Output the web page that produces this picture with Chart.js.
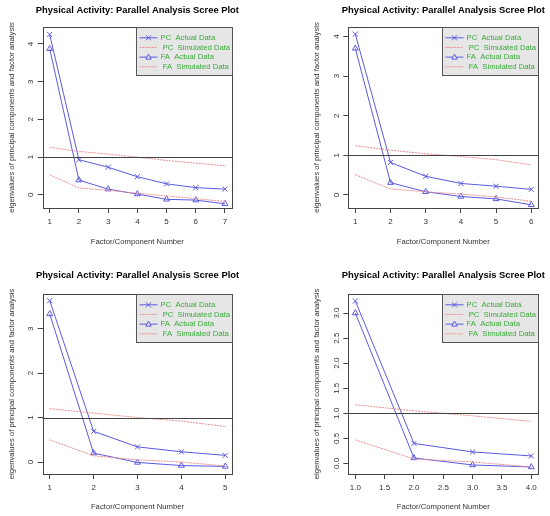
<!DOCTYPE html>
<html><head><meta charset="utf-8">
<script src="https://cdn.jsdelivr.net/npm/chart.js@4"></script>
<style>
html,body{margin:0;padding:0;background:#fff;}
#wrap{position:relative;width:550px;height:516px;overflow:hidden;}
.p{position:absolute;width:275px;height:258px;}
canvas{display:block;}
</style></head><body>
<div id="wrap">
<div class="p" style="left:0;top:0"><canvas id="c1" width="275" height="258"></canvas></div>
<div class="p" style="left:275px;top:0"><canvas id="c2" width="275" height="258"></canvas></div>
<div class="p" style="left:0;top:258px"><canvas id="c3" width="275" height="258"></canvas></div>
<div class="p" style="left:275px;top:258px"><canvas id="c4" width="275" height="258"></canvas></div>
</div>
<script>
// ---- text ----
const titleText = 'Physical Activity: Parallel Analysis Scree Plot';
const xAxisTitle = 'Factor/Component Number';
const yAxisTitle = 'eigenvalues of principal components and factor analysis';
const legendLabels = ['PC  Actual Data', ' PC  Simulated Data', 'FA  Actual Data', ' FA  Simulated Data'];

// ---- panel 1 ----
const factors1 = [1, 2, 3, 4, 5, 6, 7];
const pcActual1 = [4.25, 0.93, 0.73, 0.48, 0.29, 0.19, 0.15];
const pcSim1 = [1.26, 1.15, 1.08, 1.00, 0.91, 0.84, 0.77];
const faActual1 = [3.87, 0.39, 0.15, 0.02, -0.12, -0.14, -0.24];
const faSim1 = [0.53, 0.18, 0.12, 0.04, -0.03, -0.10, -0.18];
const xTicks1 = [1, 2, 3, 4, 5, 6, 7];
const yTicks1 = [0, 1, 2, 3, 4];
const yRange1 = [-0.35, 4.45];

// ---- panel 2 ----
const factors2 = [1, 2, 3, 4, 5, 6];
const pcActual2 = [4.06, 0.82, 0.47, 0.29, 0.22, 0.14];
const pcSim2 = [1.24, 1.13, 1.04, 0.97, 0.89, 0.76];
const faActual2 = [3.70, 0.31, 0.08, -0.04, -0.10, -0.25];
const faSim2 = [0.51, 0.15, 0.08, 0.02, -0.05, -0.16];
const xTicks2 = [1, 2, 3, 4, 5, 6];
const yTicks2 = [0, 1, 2, 3, 4];
const yRange2 = [-0.33, 4.24];

// ---- panel 3 ----
const factors3 = [1, 2, 3, 4, 5];
const pcActual3 = [3.63, 0.69, 0.34, 0.23, 0.15];
const pcSim3 = [1.20, 1.10, 1.00, 0.92, 0.80];
const faActual3 = [3.33, 0.20, -0.01, -0.08, -0.10];
const faSim3 = [0.50, 0.14, 0.05, 0.00, -0.09];
const xTicks3 = [1, 2, 3, 4, 5];
const yTicks3 = [0, 1, 2, 3];
const yRange3 = [-0.27, 3.78];

// ---- panel 4 ----
const factors4 = [1, 2, 3, 4];
const pcActual4 = [3.24, 0.40, 0.23, 0.15];
const pcSim4 = [1.17, 1.05, 0.95, 0.84];
const faActual4 = [3.00, 0.11, -0.03, -0.07];
const faSim4 = [0.47, 0.09, 0.03, -0.07];
const xTicks4 = [1.0, 1.5, 2.0, 2.5, 3.0, 3.5, 4.0];
const yTicks4 = [0.0, 0.5, 1.0, 1.5, 2.0, 2.5, 3.0];
const yRange4 = [-0.21, 3.38];

// ---- styles ----
const FONT = '"Liberation Sans", Arial, Helvetica, sans-serif';
const BLUE = '#5a5ae2';
const PINK = '#ee8c8c';
const GREEN = '#3aaa3a';
const AXIS = '#444444';

const decor = {
  id: 'decor',
  afterDraw(chart, args, o) {
    const { ctx, chartArea: a, scales } = chart;
    const ys = scales.y;
    ctx.save();
    // reference line at eigenvalue 1
    const y1 = Math.round(ys.getPixelForValue(1)) + 0.5;
    ctx.strokeStyle = AXIS; ctx.lineWidth = 1; ctx.setLineDash([]);
    ctx.beginPath(); ctx.moveTo(a.left, y1); ctx.lineTo(a.right, y1); ctx.stroke();
    // box
    const bl = Math.round(a.left) + 0.5, bt = Math.round(a.top) + 0.5;
    const br = Math.round(a.right) + 0.5, bb = Math.round(a.bottom) + 0.5;
    ctx.strokeRect(bl, bt, br - bl, bb - bt);
    // y tick labels (rotated, as in R)
    ctx.fillStyle = '#333'; ctx.font = '8px ' + FONT;
    ctx.textAlign = 'center'; ctx.textBaseline = 'middle';
    ys.ticks.forEach(t => {
      const py = ys.getPixelForValue(t.value);
      ctx.save(); ctx.translate(a.left - 12, py); ctx.rotate(-Math.PI / 2);
      ctx.fillText(o.fmt(t.value), 0, 0); ctx.restore();
    });
    // title
    ctx.fillStyle = '#000'; ctx.font = 'bold 9.4px ' + FONT;
    ctx.fillText(titleText, (a.left + a.right) / 2, o.titleY);
    // axis titles
    ctx.fillStyle = '#333'; ctx.font = '7.7px ' + FONT;
    ctx.fillText(xAxisTitle, (a.left + a.right) / 2, a.bottom + o.xTitleOff);
    ctx.save(); ctx.translate(a.left - 31, (a.top + a.bottom) / 2); ctx.rotate(-Math.PI / 2);
    ctx.fillText(yAxisTitle, 0, 0); ctx.restore();
    // legend (topright)
    const lw = 96, lh = 48;
    const lx = Math.round(a.right - lw) + 0.5, ly = bt;
    ctx.fillStyle = '#e6e6e6'; ctx.fillRect(lx, ly, lw, lh);
    ctx.strokeStyle = '#555'; ctx.strokeRect(lx, ly, lw, lh);
    ctx.font = '7.7px ' + FONT; ctx.textAlign = 'left';
    legendLabels.forEach((lab, i) => {
      const yy = ly + 10.3 + i * 9.67;
      const sim = (i % 2 === 1);
      ctx.lineWidth = 1;
      ctx.strokeStyle = sim ? PINK : BLUE;
      ctx.setLineDash(sim ? [2, 1] : []);
      ctx.beginPath(); ctx.moveTo(lx + 3, yy); ctx.lineTo(lx + 21, yy); ctx.stroke();
      ctx.setLineDash([]);
      const cx = lx + 12;
      if (i === 0) {
        ctx.beginPath();
        ctx.moveTo(cx - 2.5, yy - 2.5); ctx.lineTo(cx + 2.5, yy + 2.5);
        ctx.moveTo(cx - 2.5, yy + 2.5); ctx.lineTo(cx + 2.5, yy - 2.5); ctx.stroke();
      } else if (i === 2) {
        ctx.beginPath();
        ctx.moveTo(cx, yy - 3); ctx.lineTo(cx + 2.7, yy + 2); ctx.lineTo(cx - 2.7, yy + 2);
        ctx.closePath(); ctx.fillStyle = '#e6e6e6'; ctx.fill(); ctx.stroke();
      }
      ctx.fillStyle = GREEN;
      ctx.fillText(lab, lx + 24, yy);
    });
    ctx.restore();
  }
};

function series(xv, yv) { return xv.map((x, i) => ({ x: x, y: yv[i] })); }

function makeChart(id, p) {
  const n = p.factors.length;
  const ext = 0.04 * (p.factors[n - 1] - p.factors[0]);
  const datasets = [
    { data: series(p.factors, p.pcSim), borderColor: PINK, borderWidth: 1, borderDash: [2, 1], pointRadius: 0, fill: false, tension: 0 },
    { data: series(p.factors, p.faSim), borderColor: PINK, borderWidth: 1, borderDash: [2, 1], pointRadius: 0, fill: false, tension: 0 },
    { data: series(p.factors, p.pcActual), borderColor: BLUE, borderWidth: 1, pointStyle: 'crossRot', pointRadius: 3.6,
      pointBorderColor: BLUE, pointBorderWidth: 1, pointBackgroundColor: 'rgba(0,0,0,0)', fill: false, tension: 0 },
    { data: series(p.factors, p.faActual), borderColor: BLUE, borderWidth: 1, pointStyle: 'triangle', pointRadius: 3.4,
      pointBorderColor: BLUE, pointBorderWidth: 1, pointBackgroundColor: 'rgba(255,255,255,0)', fill: false, tension: 0 }
  ];
  const gridOpts = { display: true, drawOnChartArea: false, drawTicks: true, tickLength: 5, color: AXIS, lineWidth: 1 };
  return new Chart(document.getElementById(id), {
    type: 'line',
    data: { datasets },
    options: {
      responsive: false, animation: false, devicePixelRatio: 1,
      layout: { autoPadding: false, padding: p.pad },
      plugins: {
        legend: { display: false }, tooltip: { enabled: false }, title: { display: false },
        decor: { fmt: p.fmt, titleY: p.titleY, xTitleOff: p.xTitleOff }
      },
      scales: {
        x: {
          type: 'linear', min: p.factors[0] - ext, max: p.factors[n - 1] + ext,
          afterBuildTicks: s => { s.ticks = p.xTicks.map(v => ({ value: v })); },
          afterFit: s => { s.height = 20; },
          border: { display: false }, grid: gridOpts,
          ticks: { font: { size: 8, family: FONT }, color: '#333', padding: 3.5, maxRotation: 0, minRotation: 0,
                   autoSkip: false, callback: v => p.fmt(v) }
        },
        y: {
          type: 'linear', min: p.yRange[0], max: p.yRange[1],
          afterBuildTicks: s => { s.ticks = p.yTicks.map(v => ({ value: v })); },
          afterFit: s => { s.width = 20; },
          border: { display: false }, grid: gridOpts,
          ticks: { display: false }
        }
      }
    },
    plugins: [decor]
  });
}

const intFmt = v => String(Math.round(v));
const decFmt = v => v.toFixed(1);

makeChart('c1', { factors: factors1, pcActual: pcActual1, pcSim: pcSim1, faActual: faActual1, faSim: faSim1,
  xTicks: xTicks1, yTicks: yTicks1, yRange: yRange1, fmt: intFmt,
  pad: { left: 22.7, right: 43, top: 27, bottom: 30 }, titleY: 10.7, xTitleOff: 33.7 });
makeChart('c2', { factors: factors2, pcActual: pcActual2, pcSim: pcSim2, faActual: faActual2, faSim: faSim2,
  xTicks: xTicks2, yTicks: yTicks2, yRange: yRange2, fmt: intFmt,
  pad: { left: 53.3, right: 11.7, top: 27, bottom: 30 }, titleY: 10.7, xTitleOff: 33.7 });
makeChart('c3', { factors: factors3, pcActual: pcActual3, pcSim: pcSim3, faActual: faActual3, faSim: faSim3,
  xTicks: xTicks3, yTicks: yTicks3, yRange: yRange3, fmt: intFmt,
  pad: { left: 22.7, right: 42.7, top: 36, bottom: 22 }, titleY: 17.3, xTitleOff: 33 });
makeChart('c4', { factors: factors4, pcActual: pcActual4, pcSim: pcSim4, faActual: faActual4, faSim: faSim4,
  xTicks: xTicks4, yTicks: yTicks4, yRange: yRange4, fmt: decFmt,
  pad: { left: 53.3, right: 11.7, top: 36, bottom: 22 }, titleY: 17.3, xTitleOff: 33 });
</script>
</body></html>
